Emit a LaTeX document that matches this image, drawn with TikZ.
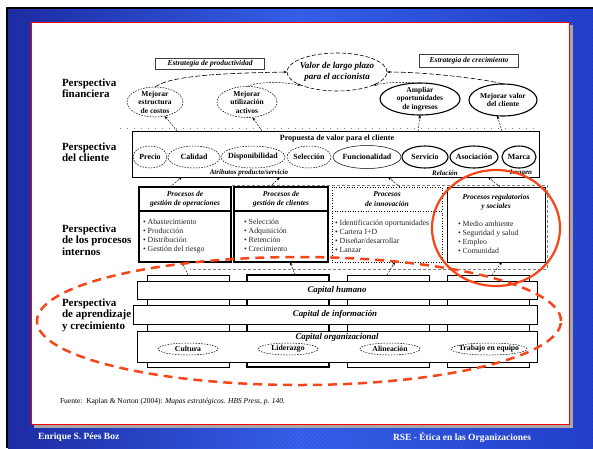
\documentclass[tikz,border=0pt]{standalone}
\usepackage{fontspec}
\setmainfont{Liberation Serif}
\usetikzlibrary{shapes.geometric,arrows.meta}
\definecolor{rojo}{RGB}{245,70,25}
\definecolor{azulA}{RGB}{30,45,165}
\definecolor{azulB}{RGB}{55,100,240}
\definecolor{azulC}{RGB}{35,65,205}
\definecolor{raya}{RGB}{20,35,140}
\begin{document}
\begin{tikzpicture}[x=1pt,y=-1pt,
  every node/.style={inner sep=0pt,outer sep=0pt},
  persp/.style={anchor=west,align=left,font=\fontsize{11}{11.5}\selectfont\bfseries},
  fin/.style={ellipse,draw,dash pattern=on 1.6pt off 1.2pt,line width=0.5pt},
  finS/.style={ellipse,draw,line width=1.1pt},
  fint/.style={align=center,font=\fontsize{7.5}{8.5}\selectfont\bfseries},
  cli/.style={ellipse,draw,dash pattern=on 1.6pt off 1.2pt,line width=0.5pt,minimum height=22pt},
  cliS/.style={ellipse,draw,line width=1.1pt,minimum height=22pt},
  clit/.style={font=\fontsize{7.9}{9}\selectfont\bfseries},
  att/.style={font=\fontsize{7}{8}\selectfont\bfseries\itshape},
  ptitle/.style={draw,line width=1.1pt,align=center,font=\fontsize{7.5}{9.5}\selectfont\bfseries\itshape},
  pbody/.style={draw,line width=1.1pt},
  plist/.style={anchor=north west,align=left,text=black!85,font=\fontsize{7.8}{9}\selectfont},
  col/.style={draw,line width=0.6pt,fill=white},
  band/.style={draw,line width=0.6pt,fill=white,font=\fontsize{8.8}{10}\selectfont\bfseries\itshape},
  org/.style={ellipse,draw,dash pattern=on 1.6pt off 1.2pt,line width=0.5pt,minimum height=12pt},
  orgt/.style={font=\fontsize{7.7}{9}\selectfont\bfseries},
  est/.style={draw=black!75,line width=0.7pt,font=\fontsize{7.5}{9}\selectfont\bfseries\itshape},
  arr/.style={-{Stealth[length=3.5pt,width=2.6pt]},line width=0.45pt,dash pattern=on 2pt off 1.2pt},
  varr/.style={-{Stealth[length=3.5pt,width=2.6pt]},line width=0.6pt,dash pattern=on 5pt off 2pt}
]
\useasboundingbox (0,0) rectangle (593,448);
% background
\fill[white] (0,0) rectangle (593,448);
\fill[black] (6,7) rectangle (593,448);
\shade[left color=azulA,right color=azulC,middle color=azulB] (8,9) rectangle (593,448);
\begin{scope}
  \clip (8,9) rectangle (593,448);
  \foreach \i in {-450,-446,...,600} \draw[raya,opacity=0.22,line width=1pt] (\i,448) -- (\i+448,0);
\end{scope}
% panel
\fill[gray!70] (34,25) rectangle (573,428);
\fill[white] (31,22) rectangle (569,424);
\draw[red,line width=0.8pt] (31,22) rectangle (569,424);

% perspective labels
\node[persp] (pf) at (62,88) {Perspectiva\\financiera};
\node[persp] (pc) at (62,152) {Perspectiva\\del cliente};
\node[persp] (pp) at (62,240) {Perspectiva\\de los procesos\\internos};
\node[persp] (pa) at (62,315) {Perspectiva\\de aprendizaje\\y crecimiento};

% financial perspective
\node[est,minimum width=109pt,minimum height=11pt] (ep) at (210,64) {Estrategia de productividad};
\node[est,minimum width=99pt,minimum height=13pt] (ec) at (469,61) {Estrategia de crecimiento};
\node[ellipse,draw,dash pattern=on 4pt off 2pt,line width=0.6pt,minimum width=100pt,minimum height=38pt] (vl) at (337,72) {};
\node[align=center,font=\fontsize{9}{10.5}\selectfont\bfseries\itshape] (vlT) at (vl) {Valor de largo plazo\\para el accionista};
\node[fin,minimum width=56pt,minimum height=30pt] (costos) at (155,102) {};
\node[fint] (costosT) at (costos) {Mejorar\\estructura\\de costos};
\node[fin,minimum width=60pt,minimum height=31pt] (activos) at (247,102) {};
\node[fint] (activosT) at (activos) {Mejorar\\utilización\\activos};
\node[finS,minimum width=80pt,minimum height=32pt] (ampliar) at (420,99) {};
\node[fint] (ampliarT) at (ampliar) {Ampliar\\oportunidades\\de ingresos};
\node[finS,minimum width=68pt,minimum height=32pt] (mvalor) at (503,100) {};
\node[fint] (mvalorT) at (mvalor) {Mejorar valor\\del cliente};

\draw[varr] (costos.north) .. controls (172,74) and (240,73) .. (vl.west);
\draw[arr] (activos.north) .. controls (252,84) and (270,80) .. (vl.200);
\draw[arr] (ampliar.north) .. controls (415,84) and (400,80) .. (vl.-20);
\draw[varr] (mvalor.north) .. controls (490,80) and (430,72) .. (vl.east);
\draw[gray,dash pattern=on 1pt off 6pt] (120,128) -- (540,128);

% customer perspective
\node[draw,line width=0.6pt,minimum width=407pt,minimum height=46pt] (cbox) at (335.5,154) {};
\node[font=\fontsize{8}{9}\selectfont\bfseries] (prop) at (337,139) {Propuesta de valor para el cliente};
\node[cli,minimum width=34pt] (e1) at (150,157) {}; \node[clit] (e1T) at (e1) {Precio};
\node[cli,minimum width=52pt] (e2) at (194,157) {}; \node[clit] (e2T) at (e2) {Calidad};
\node[cli,minimum width=64pt] (e3) at (253,157) {}; \node[clit] (e3T) at (e3) {Disponibilidad};
\node[cli,minimum width=44pt] (e4) at (309,157) {}; \node[clit] (e4T) at (e4) {Selección};
\node[ellipse,draw,line width=0.5pt,minimum height=23pt,minimum width=68pt] (e5) at (367,157) {}; \node[clit] (e5T) at (e5) {Funcionalidad};
\node[cliS,minimum width=46pt] (e6) at (425,157) {}; \node[clit] (e6T) at (e6) {Servicio};
\node[cliS,minimum width=48pt] (e7) at (474,157) {}; \node[clit] (e7T) at (e7) {Asociación};
\node[cliS,minimum width=34pt] (e8) at (519,157) {}; \node[clit] (e8T) at (e8) {Marca};
\node[att] (atr) at (249,173) {Atributos producto/servicio};
\node[att] (rel) at (445,173) {Relación};
\node[att] (img) at (521,173) {Imagen};

\draw[arr] ([xshift=-158.5pt]cbox.north) -- (costos.-55);
\draw[arr] ([xshift=-73.5pt]cbox.north) -- (activos.-70);
\draw[arr] ([xshift=82.5pt]cbox.north) -- (ampliar.south);
\draw[arr] ([xshift=166.5pt]cbox.north) -- (mvalor.-110);

% internal processes
\draw[gray,dash pattern=on 3pt off 2pt,line width=0.5pt] (232,185) -- (547,185) -- (547,269) -- (190,269);
\node[ptitle,minimum width=92pt,minimum height=24pt] (t1) at (185,199) {Procesos de\\gestión de operaciones};
\node[pbody,minimum width=92pt,minimum height=51pt] (k1) at (185,236.5) {};
\node[plist] (l1) at (143,219) {\textbullet\ Abastecimiento\\\textbullet\ Producción\\\textbullet\ Distribución\\\textbullet\ Gestión del riesgo};
\node[ptitle,minimum width=94pt,minimum height=24pt] (t2) at (281,199) {Procesos de\\gestión de clientes};
\node[pbody,minimum width=94pt,minimum height=51pt] (k2) at (281,236.5) {};
\node[plist] (l2) at (244,219) {\textbullet\ Selección\\\textbullet\ Adquisición\\\textbullet\ Retención\\\textbullet\ Crecimiento};
\node[ptitle,line width=0.6pt,dotted,minimum width=110pt,minimum height=24pt] (t3) at (387,199) {Procesos\\de innovación};
\node[pbody,line width=0.6pt,dotted,minimum width=110pt,minimum height=51pt] (k3) at (387,236.5) {};
\node[plist] (l3) at (335,220) {\textbullet\ Identificación oportunidades\\\textbullet\ Cartera I+D\\\textbullet\ Diseñar/desarrollar\\\textbullet\ Lanzar};
\node[draw,line width=0.6pt,minimum width=98pt,minimum height=75pt] (b4) at (496,224.5) {};
\node[align=center,font=\fontsize{7.5}{9.5}\selectfont\bfseries\itshape] (t4) at (496,202) {Procesos regulatorios\\y sociales};
\node[plist] (l4) at (458,221) {\textbullet\ Medio ambiente\\\textbullet\ Seguridad y salud\\\textbullet\ Empleo\\\textbullet\ Comunidad};

\draw[arr] ([xshift=-15pt]t1.north) -- ([xshift=-153.5pt]cbox.south);
\draw[arr] ([xshift=-11pt]t2.north) -- ([xshift=-55.5pt]cbox.south);
\draw[arr] ([xshift=13pt]t3.north) -- ([xshift=52.5pt]cbox.south);
\draw[arr] ([xshift=4pt]b4.north) -- ([xshift=152.5pt]cbox.south);

% learning and growth
\node[col,minimum width=82pt,minimum height=92pt] (c1) at (188,321) {};
\node[col,line width=1.1pt,minimum width=82pt,minimum height=92pt] (c2) at (288,321) {};
\node[col,minimum width=82pt,minimum height=92pt] (c3) at (388,321) {};
\node[col,minimum width=82pt,minimum height=92pt] (c4) at (488,321) {};
\node[band,minimum width=400pt,minimum height=18pt] (bh) at (337,290) {Capital humano};
\node[band,minimum width=404pt,minimum height=19pt] (bi) at (335,314.5) {Capital de información};
\node[band,minimum width=400pt,minimum height=31pt] (bo) at (337,346.5) {};
\node[font=\fontsize{8.8}{10}\selectfont\bfseries\itshape] (boT) at (337,337) {Capital organizacional};
\node[org,minimum width=60pt] (o1) at (188,349) {}; \node[orgt] (o1T) at (o1) {Cultura};
\node[org,minimum width=60pt] (o2) at (288,349) {}; \node[orgt] (o2T) at (o2) {Liderazgo};
\node[org,minimum width=60pt] (o3) at (390,349) {}; \node[orgt] (o3T) at (o3) {Alineación};
\node[org,minimum width=76pt] (o4) at (489,349) {}; \node[orgt] (o4T) at (o4) {Trabajo en equipo};

\draw[arr] (c1.north) -- ([xshift=-3pt]k1.south);
\draw[arr] ([xshift=7pt]c2.north) -- ([xshift=9pt]k2.south);
\draw[arr] ([xshift=-1pt]c3.north) -- ([xshift=8pt]k3.south);
\draw[arr] ([xshift=4pt]c4.north) -- ([xshift=6pt]b4.south);

% red highlights
\draw[rojo,line width=2.2pt] (496,228) ellipse [x radius=64pt,y radius=58pt];
\draw[rojo,line width=2.5pt,dash pattern=on 9pt off 6pt] (299,321) ellipse [x radius=262pt,y radius=64pt];

% source and footer
\node[anchor=west,font=\fontsize{7.5}{9}\selectfont] (fuente) at (60,402) {Fuente:\ \ Kaplan \& Norton (2004): \textit{Mapas estratégicos. HBS Press, p. 140.}};
\node[anchor=west,text=white,font=\fontsize{9.5}{11}\selectfont\bfseries] (autor) at (38,437) {Enrique S. Pées Boz};
\node[anchor=west,text=white,font=\fontsize{9.5}{11}\selectfont\bfseries] (rse) at (393,437) {RSE - Ética en las Organizaciones};
\end{tikzpicture}
\end{document}
